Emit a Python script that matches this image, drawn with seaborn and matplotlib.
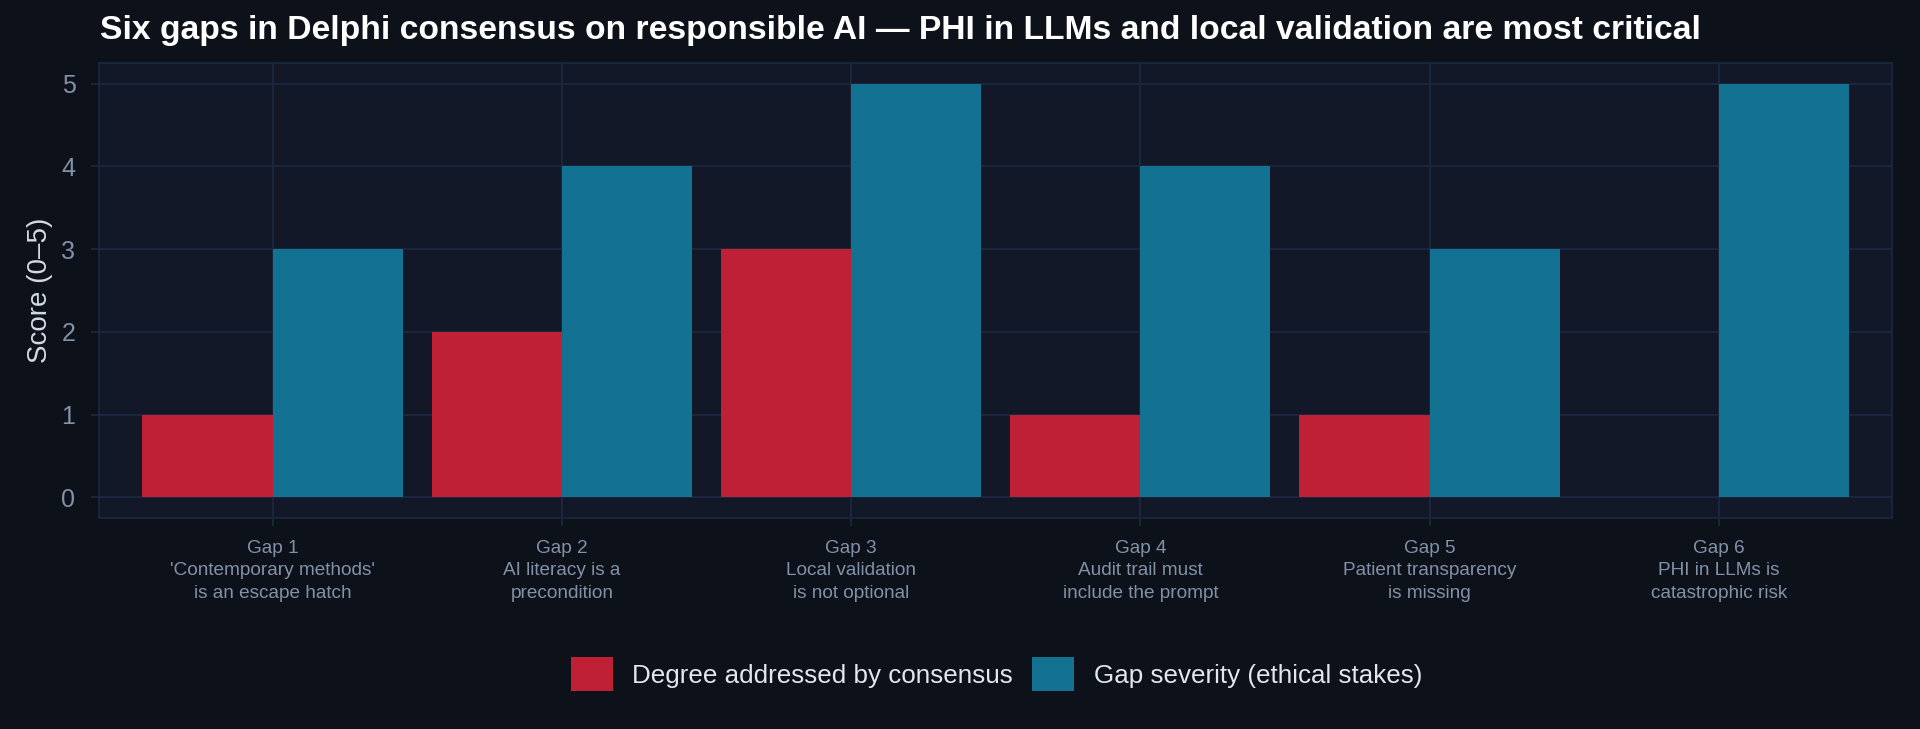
import pandas as pd
import seaborn as sns
import matplotlib.pyplot as plt

# Data
gaps = ["Gap 1\n'Contemporary methods'\nis an escape hatch",
        "Gap 2\nAI literacy is a\nprecondition",
        "Gap 3\nLocal validation\nis not optional",
        "Gap 4\nAudit trail must\ninclude the prompt",
        "Gap 5\nPatient transparency\nis missing",
        "Gap 6\nPHI in LLMs is\ncatastrophic risk"]
addressed = [1, 2, 3, 1, 1, 0]
severity = [3, 4, 5, 4, 3, 5]
series_names = ["Degree addressed by consensus", "Gap severity (ethical stakes)"]

df = pd.DataFrame({
    "Gap": gaps * 2,
    "Score": addressed + severity,
    "Measure": [series_names[0]] * len(gaps) + [series_names[1]] * len(gaps),
})

fig_bg = "#0d111a"
panel_bg = "#121827"
grid_col = "#1b2840"
tick_col = "#8391a8"
red = "#c02036"
blue = "#137191"

sns.set_theme(style="dark")
plt.rcParams['font.family'] = ['Liberation Sans', 'DejaVu Sans']

fig = plt.figure(figsize=(19.2, 7.29), dpi=100, facecolor=fig_bg)
ax = fig.add_axes([0.0516, 0.2894, 0.934, 0.6242])
ax.set_facecolor(panel_bg)

sns.barplot(data=df, x="Gap", y="Score", hue="Measure", order=gaps,
            hue_order=series_names, palette=[red, blue], width=0.9,
            saturation=1, linewidth=0, edgecolor="none", ax=ax, zorder=3)

ax.set_xlim(-0.6, len(gaps) - 0.4)
ax.set_ylim(-0.25, 5.25)
ax.set_yticks(range(0, 6))

ax.grid(True, color=grid_col, linewidth=1.3, zorder=0)
ax.set_axisbelow(True)
for s in ax.spines.values():
    s.set_color(grid_col)
    s.set_linewidth(1.2)

ax.tick_params(axis="y", colors=tick_col, labelsize=18, length=6, width=1.3,
               color=grid_col, pad=11, left=True)
ax.tick_params(axis="x", colors=tick_col, labelsize=13.7, length=6, width=1.3,
               color=grid_col, pad=10, bottom=True)
ax.set_xticks(range(len(gaps)))
ax.set_xticklabels(gaps, linespacing=1.4)

ax.set_xlabel("")
ax.set_ylabel("Score (0–5)", fontsize=20, color="#d3dae4")
ax.yaxis.set_label_coords(-0.0256, 0.5)

fig.text(100 / 1920, 1 - 39 / 729,
         "Six gaps in Delphi consensus on responsible AI — PHI in LLMs and local validation are most critical",
         fontsize=24.2, fontweight="bold", color="white", va="baseline", ha="left")

handles, labels = ax.get_legend_handles_labels()
ax.get_legend().remove()
leg = fig.legend(handles, labels, loc="center", bbox_to_anchor=(0.519, 0.0754), ncol=2,
                 frameon=False, fontsize=18.7, labelcolor="#e2e7ef",
                 handlelength=1.62, handleheight=1.62, handletextpad=0.74,
                 columnspacing=0.74)
for h in leg.legend_handles:
    h.set_edgecolor("none")
    h.set_linewidth(0)

fig.savefig("out.png", dpi=100, facecolor=fig_bg)
